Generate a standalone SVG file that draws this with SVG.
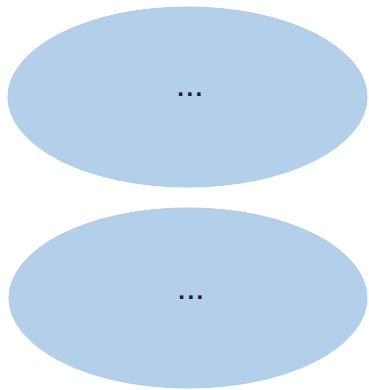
<svg xmlns="http://www.w3.org/2000/svg" width="369" height="390" viewBox="0 0 369 390">
<style>
.node{fill:#b3cfea;stroke:#aecbe6;stroke-width:1}
.lbl{font-family:"Liberation Sans",Arial,sans-serif;font-size:24px;font-weight:bold;fill:#14213a;letter-spacing:2.5px}
</style>
<rect width="369" height="390" fill="#ffffff"/>
<g id="node1">
<ellipse class="node" cx="187.5" cy="97" rx="179.5" ry="90"/>
<text class="lbl" x="191" y="95.5" text-anchor="middle">...</text>
</g>
<g id="node2">
<ellipse class="node" cx="188" cy="298" rx="179" ry="90"/>
<text class="lbl" x="192" y="298.5" text-anchor="middle">...</text>
</g>
<g id="connectors"></g>
</svg>
